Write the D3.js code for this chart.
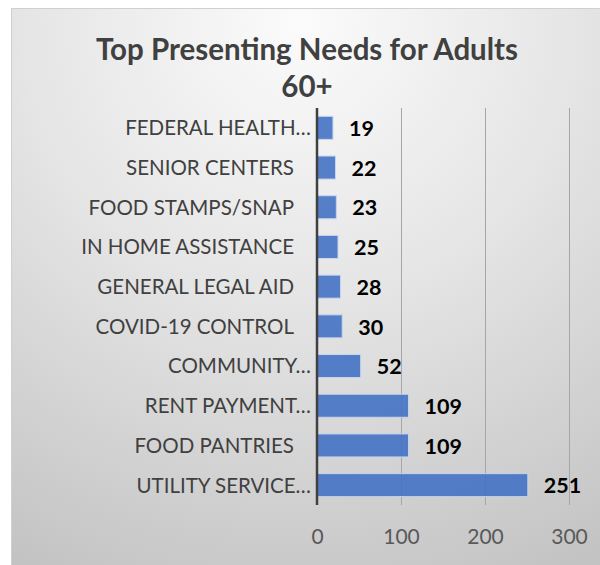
<!DOCTYPE html>
<html>
<head>
<meta charset="utf-8">
<script src="https://cdn.jsdelivr.net/npm/d3@7"></script>
<style>
  html, body { margin: 0; padding: 0; background: #ffffff; }
  svg { display: block; }
  text { font-family: Lato, "Open Sans", sans-serif; }
</style>
</head>
<body>
<div id="chart"></div>
<script>
// Categories, top to bottom, with their counts
const categories = [
  "FEDERAL HEALTH…",
  "SENIOR CENTERS",
  "FOOD STAMPS/SNAP",
  "IN HOME ASSISTANCE",
  "GENERAL LEGAL AID",
  "COVID-19 CONTROL",
  "COMMUNITY…",
  "RENT PAYMENT…",
  "FOOD PANTRIES",
  "UTILITY SERVICE…"
];
const counts = [19, 22, 23, 25, 28, 30, 52, 109, 109, 251];
const xTicks = [0, 100, 200, 300];
const titleLines = ["Top Presenting Needs for Adults", "60+"];

const W = 600, H = 565;
const svg = d3.select("#chart").append("svg")
  .attr("width", W).attr("height", H);

// soft grey radial background of the chart area
const defs = svg.append("defs");
const grad = defs.append("radialGradient")
  .attr("id", "bg")
  .attr("gradientUnits", "userSpaceOnUse")
  .attr("cx", 300).attr("cy", 20).attr("r", 620);
grad.append("stop").attr("offset", "0%").attr("stop-color", "#fbfbfb");
grad.append("stop").attr("offset", "45%").attr("stop-color", "#e5e5e5");
grad.append("stop").attr("offset", "100%").attr("stop-color", "#c2c2c2");

svg.append("rect")
  .attr("x", 11.5).attr("y", 8.5)
  .attr("width", W).attr("height", H)
  .attr("fill", "url(#bg)")
  .attr("stroke", "#d0d0d0").attr("stroke-width", 1);

// title
svg.append("g").selectAll("text")
  .data(titleLines)
  .join("text")
  .attr("x", 307)
  .attr("y", (d, i) => 60 + i * 37)
  .attr("text-anchor", "middle")
  .attr("font-size", 29.5)
  .attr("font-weight", 700)
  .attr("fill", "#404040")
  .text(d => d);

// scales
const x = d3.scaleLinear().domain([0, 300]).range([317, 569]);
const y = d3.scaleBand().domain(categories).range([108, 505])
  .paddingInner(0.42).paddingOuter(0.21);

// vertical gridlines
svg.append("g").selectAll("line")
  .data(xTicks.filter(t => t > 0))
  .join("line")
  .attr("x1", d => x(d) + 0.5).attr("x2", d => x(d) + 0.5)
  .attr("y1", 108).attr("y2", 505)
  .attr("stroke", "#a6a6a6").attr("stroke-width", 1);

// bars
svg.append("g").selectAll("rect")
  .data(categories)
  .join("rect")
  .attr("x", x(0))
  .attr("y", d => y(d))
  .attr("width", (d, i) => x(counts[i]) - x(0))
  .attr("height", y.bandwidth())
  .attr("fill", "#4472c4")
  .attr("fill-opacity", 0.9)
  .attr("stroke", "#c8d5ee")
  .attr("stroke-width", 1);

// category axis line
svg.append("line")
  .attr("x1", x(0)).attr("x2", x(0))
  .attr("y1", 108).attr("y2", 505)
  .attr("stroke", "#404040").attr("stroke-width", 2.5);

// category labels (truncated names sit closer to the axis)
svg.append("g").selectAll("text")
  .data(categories)
  .join("text")
  .attr("x", d => d.endsWith("…") ? x(0) - 6 : x(0) - 23)
  .attr("y", d => y(d) + y.bandwidth() / 2)
  .attr("dy", "0.36em")
  .attr("text-anchor", "end")
  .attr("font-size", 20.5)
  .attr("fill", "#404040")
  .text(d => d);

// value labels
svg.append("g").selectAll("text")
  .data(categories)
  .join("text")
  .attr("x", (d, i) => x(counts[i]) + 16)
  .attr("y", d => y(d) + y.bandwidth() / 2)
  .attr("dy", "0.38em")
  .attr("font-size", 21.5)
  .attr("font-weight", 700)
  .attr("fill", "#000000")
  .text((d, i) => counts[i]);

// value axis tick labels
const xAxis = d3.axisBottom(x).tickValues(xTicks).tickSize(0).tickPadding(0);
const gx = svg.append("g").attr("transform", "translate(0,544)").call(xAxis);
gx.select(".domain").remove();
gx.selectAll("text")
  .attr("dy", 0)
  .attr("font-size", 21)
  .attr("font-family", "Lato, 'Open Sans', sans-serif")
  .attr("fill", "#595959");
</script>
</body>
</html>
